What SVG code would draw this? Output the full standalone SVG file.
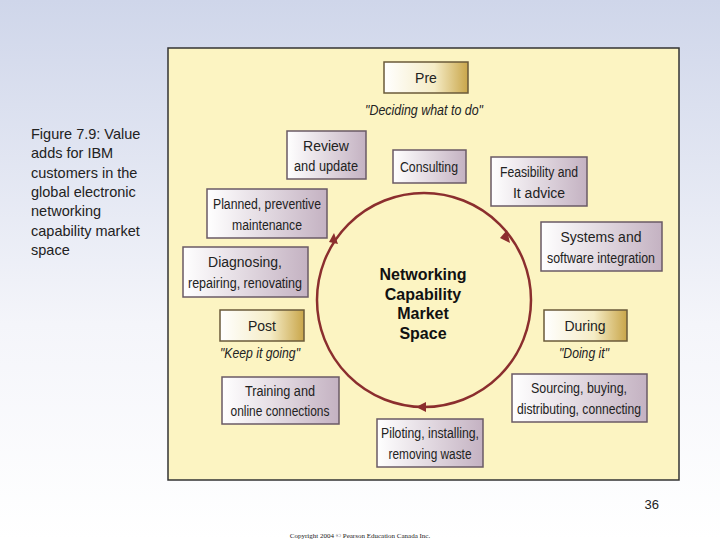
<svg xmlns="http://www.w3.org/2000/svg" width="720" height="540" viewBox="0 0 720 540">
<defs>
<linearGradient id="bg" x1="0" y1="0" x2="0" y2="1"><stop offset="0" stop-color="#cfd6ea"/><stop offset="0.6" stop-color="#f4f5fa"/><stop offset="1" stop-color="#ffffff"/></linearGradient>
<linearGradient id="gold" x1="0" y1="0" x2="1" y2="0"><stop offset="0" stop-color="#ffffff"/><stop offset="0.6" stop-color="#f5ecc6"/><stop offset="1" stop-color="#c9a64a"/></linearGradient>
<linearGradient id="mauve" x1="0" y1="0" x2="1" y2="0"><stop offset="0" stop-color="#ffffff"/><stop offset="1" stop-color="#c4b2c2"/></linearGradient>
</defs>
<style>
.n{fill:url(#mauve);stroke:#6a5a66;stroke-width:1.5}
.p{fill:url(#gold);stroke:#6a5a3a;stroke-width:1.5}
.t{font-family:"Liberation Sans",Arial,sans-serif;font-size:14px;fill:#222;text-anchor:middle}
.q{font-family:"Liberation Sans",Arial,sans-serif;font-size:14px;font-style:italic;fill:#222;text-anchor:middle}
.c{font-family:"Liberation Sans",Arial,sans-serif;font-size:16px;font-weight:bold;fill:#111;text-anchor:middle}
</style>
<rect width="720" height="540" fill="url(#bg)"/>
<text font-family="Liberation Sans,Arial,sans-serif" font-size="14.5" fill="#222"><tspan x="31" y="139">Figure 7.9: Value</tspan><tspan x="31" y="158">adds for IBM</tspan><tspan x="31" y="178">customers in the</tspan><tspan x="31" y="197">global electronic</tspan><tspan x="31" y="216">networking</tspan><tspan x="31" y="236">capability market</tspan><tspan x="31" y="255">space</tspan></text>
<rect x="168" y="48" width="511" height="432" fill="#fcf4c2" stroke="#333" stroke-width="1.5"/>
<g id="connectors" fill="none" stroke="#8b2e2e" stroke-width="2.5">
<circle cx="424" cy="300" r="107"/>
</g>
<g id="arrows" fill="#8b2e2e">
<path d="M510,243 L500,238 L507,230 Z"/>
<path d="M334,233 L338,244 L329,242 Z"/>
<path d="M416,407 L426,402 L426,412 Z"/>
</g>
<g id="center"><text class="c" x="423" y="280">Networking</text><text class="c" x="423" y="300">Capability</text><text class="c" x="423" y="319">Market</text><text class="c" x="423" y="339">Space</text></g>
<g id="pre"><rect class="p" x="384" y="62" width="84" height="31"/><text class="t" x="426" y="83">Pre</text><text class="q" x="424" y="115" textLength="118" lengthAdjust="spacingAndGlyphs">"Deciding what to do"</text></g>
<g id="review"><rect class="n" x="287" y="131" width="79" height="48"/><text class="t" x="326" y="151">Review</text><text class="t" x="326" y="171" textLength="64" lengthAdjust="spacingAndGlyphs">and update</text></g>
<g id="consulting"><rect class="n" x="393" y="150" width="73" height="33"/><text class="t" x="429" y="172" textLength="58" lengthAdjust="spacingAndGlyphs">Consulting</text></g>
<g id="feasibility"><rect class="n" x="491" y="157" width="96" height="49"/><text class="t" x="539" y="177" textLength="78" lengthAdjust="spacingAndGlyphs">Feasibility and</text><text class="t" x="539" y="198">It advice</text></g>
<g id="planned"><rect class="n" x="207" y="189" width="120" height="49"/><text class="t" x="267" y="209" textLength="108" lengthAdjust="spacingAndGlyphs">Planned, preventive</text><text class="t" x="267" y="230" textLength="70" lengthAdjust="spacingAndGlyphs">maintenance</text></g>
<g id="systems"><rect class="n" x="541" y="222" width="121" height="49"/><text class="t" x="601" y="242">Systems and</text><text class="t" x="601" y="263" textLength="108" lengthAdjust="spacingAndGlyphs">software integration</text></g>
<g id="diagnosing"><rect class="n" x="183" y="247" width="125" height="50"/><text class="t" x="245" y="267">Diagnosing,</text><text class="t" x="245" y="288" textLength="114" lengthAdjust="spacingAndGlyphs">repairing, renovating</text></g>
<g id="post"><rect class="p" x="220" y="310" width="84" height="31"/><text class="t" x="262" y="331">Post</text><text class="q" x="260" y="358" textLength="80" lengthAdjust="spacingAndGlyphs">"Keep it going"</text></g>
<g id="during"><rect class="p" x="544" y="310" width="83" height="31"/><text class="t" x="585" y="331">During</text><text class="q" x="584" y="358" textLength="50" lengthAdjust="spacingAndGlyphs">"Doing it"</text></g>
<g id="training"><rect class="n" x="222" y="377" width="117" height="47"/><text class="t" x="280" y="396" textLength="70" lengthAdjust="spacingAndGlyphs">Training and</text><text class="t" x="280" y="416" textLength="99" lengthAdjust="spacingAndGlyphs">online connections</text></g>
<g id="sourcing"><rect class="n" x="512" y="374" width="135" height="48"/><text class="t" x="579" y="393" textLength="96" lengthAdjust="spacingAndGlyphs">Sourcing, buying,</text><text class="t" x="579" y="414" textLength="124" lengthAdjust="spacingAndGlyphs">distributing, connecting</text></g>
<g id="piloting"><rect class="n" x="377" y="419" width="106" height="48"/><text class="t" x="430" y="438" textLength="98" lengthAdjust="spacingAndGlyphs">Piloting, installing,</text><text class="t" x="430" y="459" textLength="83" lengthAdjust="spacingAndGlyphs">removing waste</text></g>
<text x="659" y="509" font-family="Liberation Sans,Arial,sans-serif" font-size="13" fill="#222" text-anchor="end">36</text>
<text x="360" y="538" font-family="Liberation Serif,serif" font-size="7" fill="#222" text-anchor="middle">Copyright 2004 © Pearson Education Canada Inc.</text>
</svg>
